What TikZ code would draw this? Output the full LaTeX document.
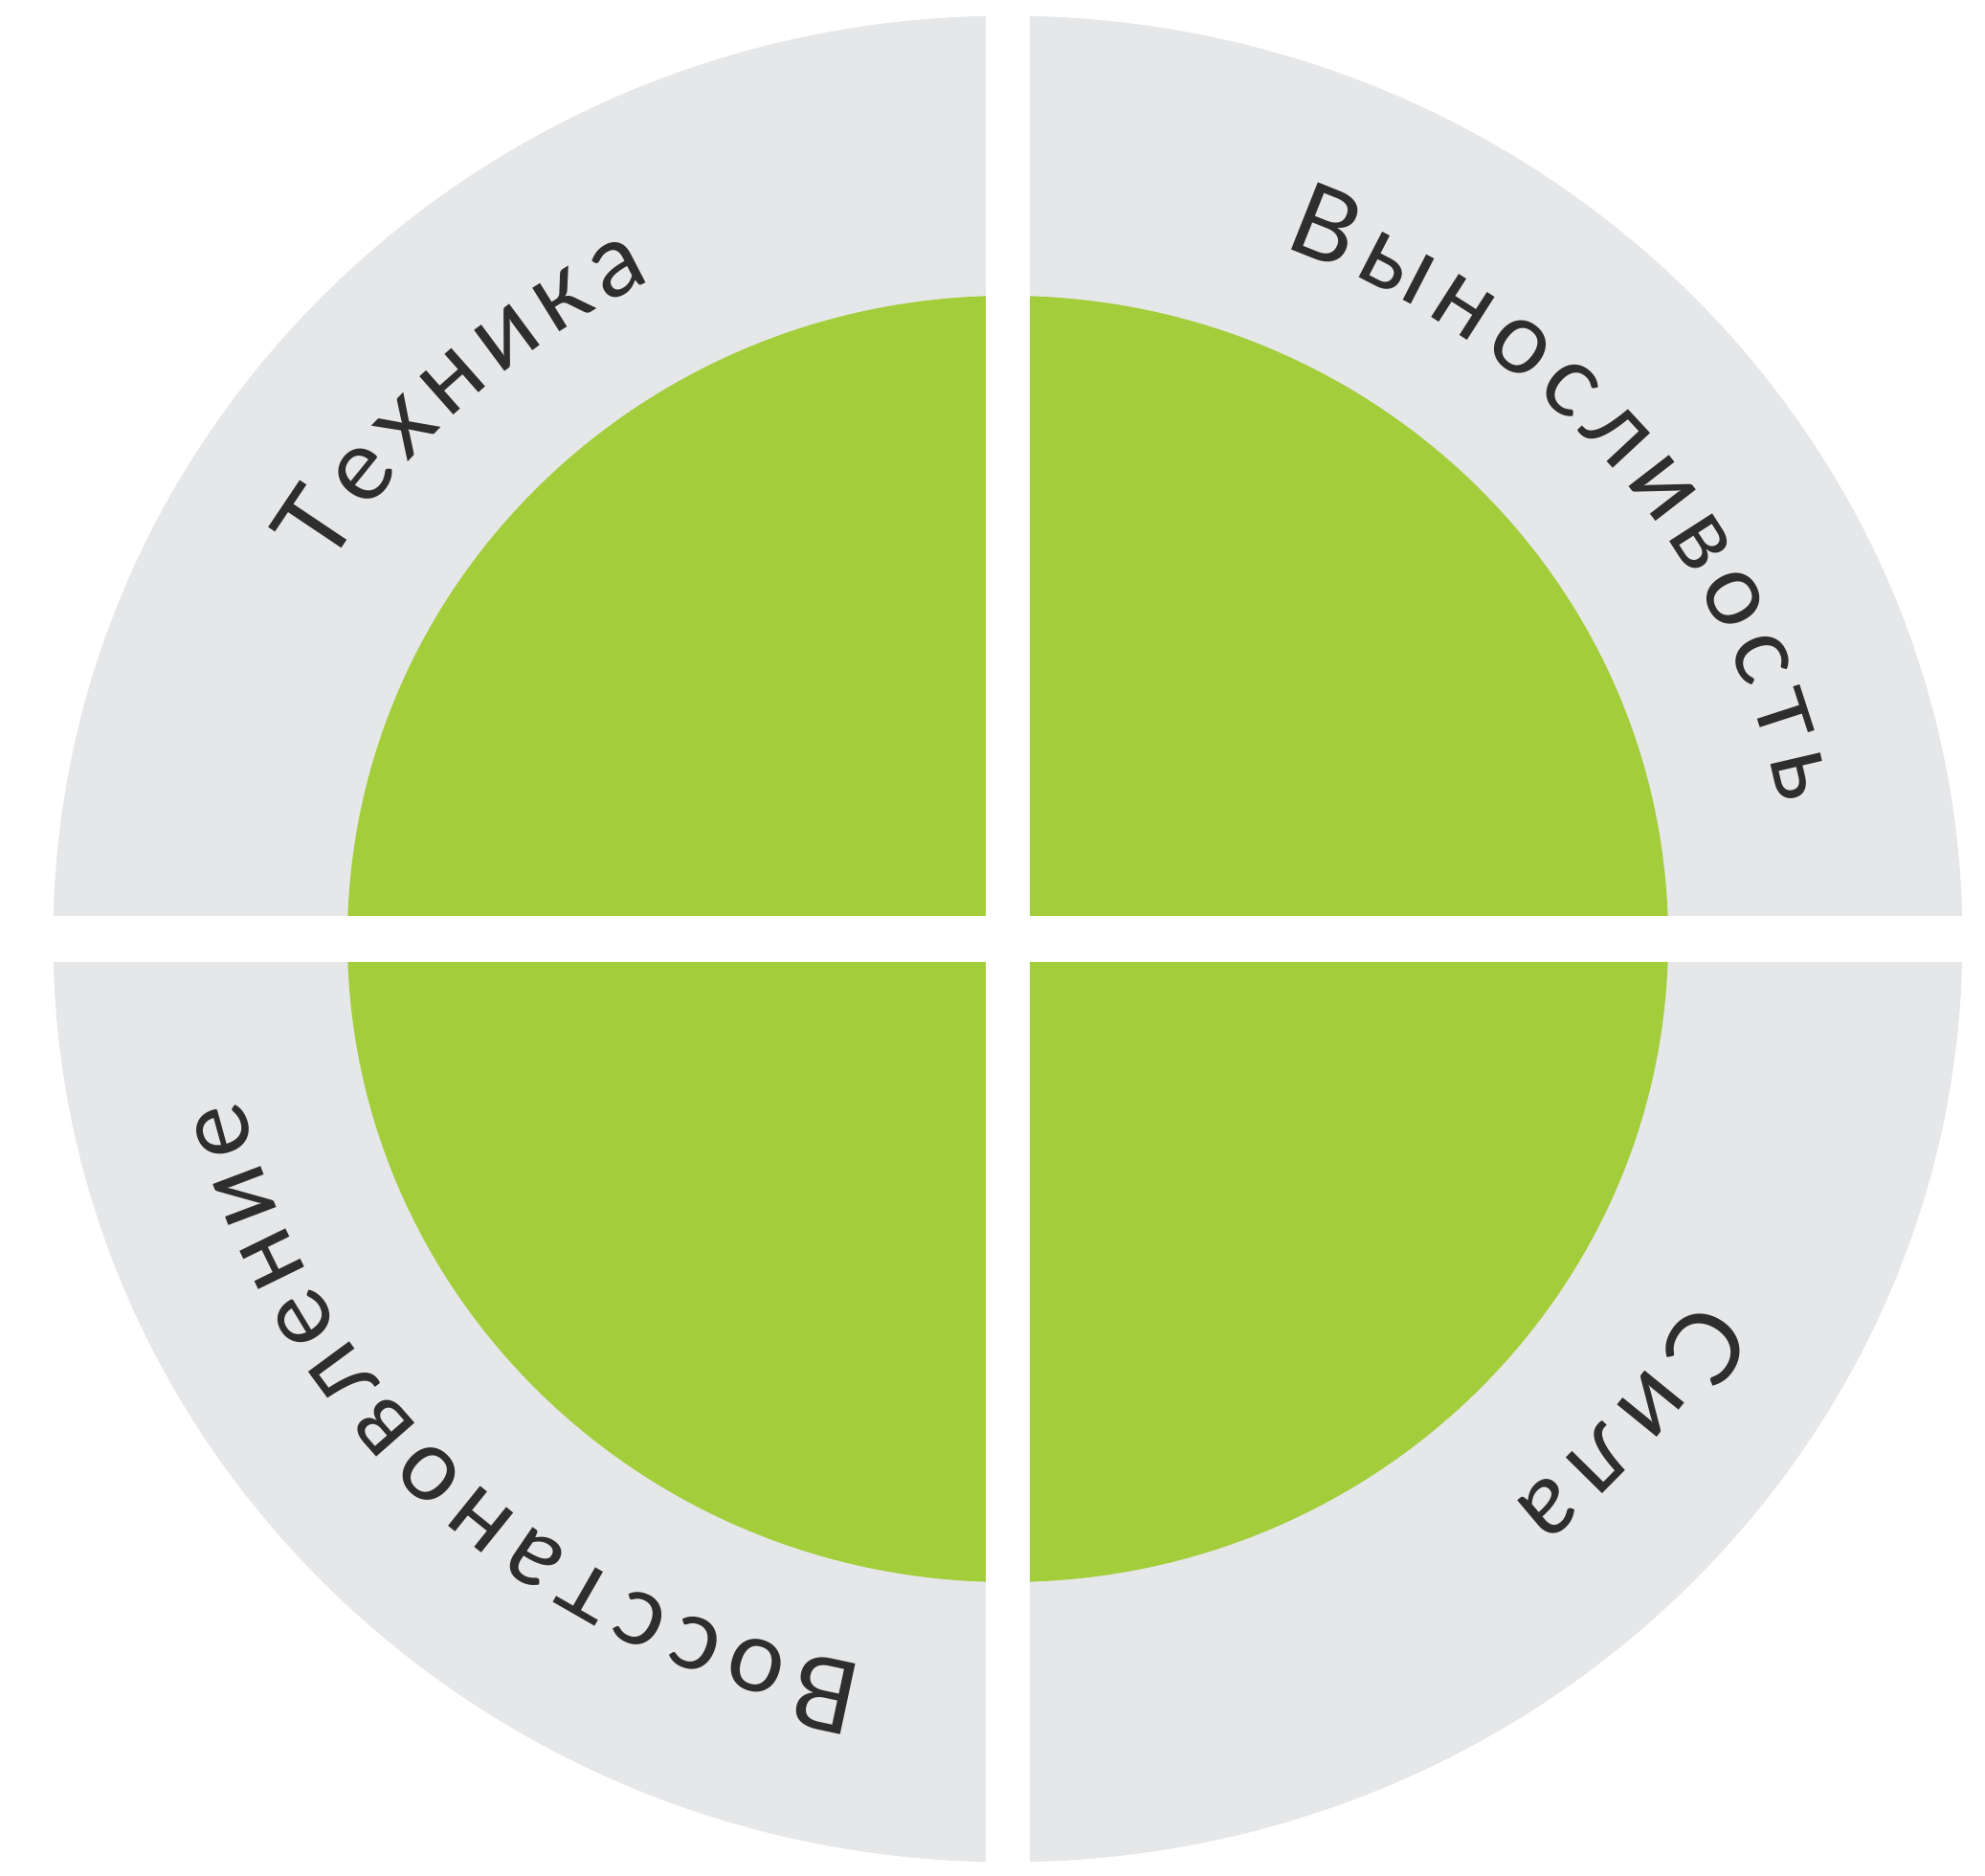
\documentclass[tikz,border=0pt]{standalone}
\usepackage{fontspec}
\setmainfont{Lato}
\usetikzlibrary{decorations.text}

\definecolor{ringgray}{HTML}{E6E7E9}
\definecolor{leafgreen}{HTML}{A3CD3B}
\definecolor{labelgray}{HTML}{2E2E2E}
\newcommand{\lblfont}{\fontsize{30}{30}\selectfont}

\begin{document}
\begin{tikzpicture}[
    ringtext/.style={decorate, decoration={text along path, text align={fit to path}, text color=labelgray, text={#1}}}
  ]
    \useasboundingbox (-10.53,-9.79) rectangle (10.21,9.81);

    % Outer ring and inner disc
    \fill[ringgray] (0,0) ellipse [x radius=9.975, y radius=9.645];
    \fill[leafgreen] (0,0) ellipse [x radius=6.9, y radius=6.72];

    % White cross splitting the four quarters
    \fill[white] (-0.23,-10) rectangle (0.23,10);
    \fill[white] (-10.6,-0.24) rectangle (10.6,0.24);

    % Labels along the ring, read clockwise
    \path[ringtext={|\lblfont|Техника}] (150:8.2 and 7.72) arc[start angle=150, end angle=117, x radius=8.2, y radius=7.72];
    \path[ringtext={|\lblfont|Выносливость}] (69.5:8.2 and 7.72) arc[start angle=69.5, end angle=10.5, x radius=8.2, y radius=7.72];
    \path[ringtext={|\lblfont|Сила}] (-29:8.2 and 7.72) arc[start angle=-29, end angle=-50, x radius=8.2, y radius=7.72];
    \path[ringtext={|\lblfont|Восстановление}] (259.5:8.2 and 7.72) arc[start angle=259.5, end angle=192.5, x radius=8.2, y radius=7.72];
\end{tikzpicture}
\end{document}
